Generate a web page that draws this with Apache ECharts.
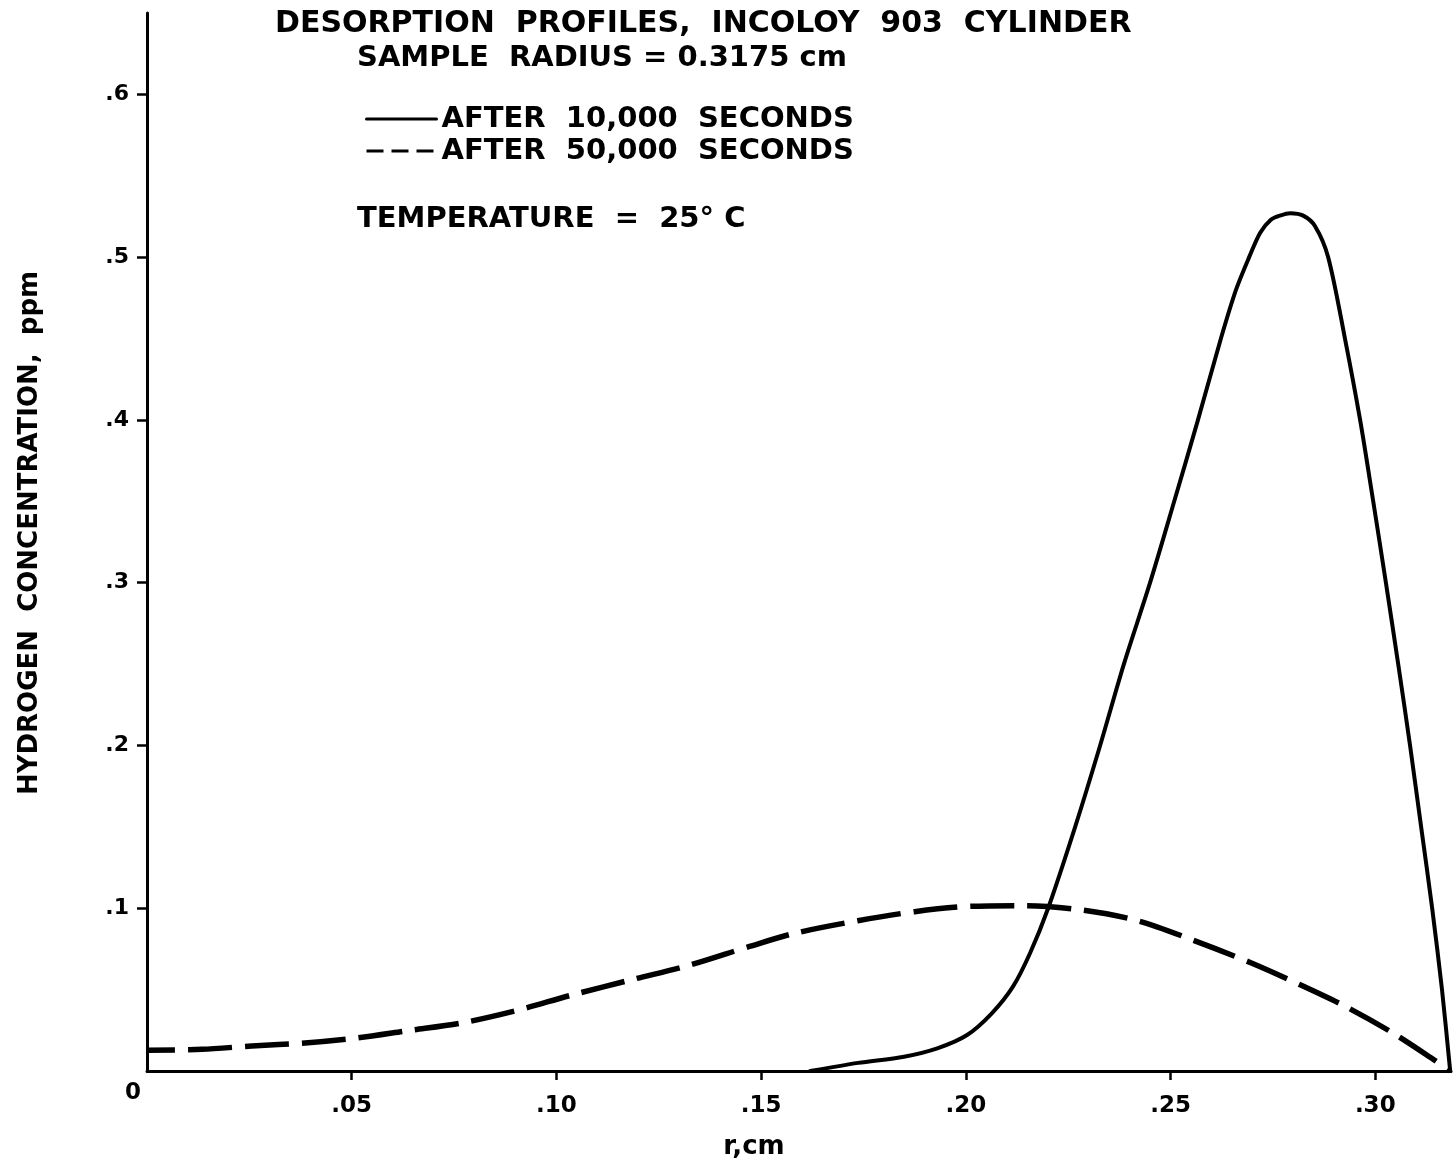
<!DOCTYPE html>
<html>
<head>
<meta charset="utf-8">
<script src="https://cdn.jsdelivr.net/npm/echarts@6/dist/echarts.min.js"></script>
<style>
html, body { margin: 0; padding: 0; background: #fff; }
#main { width: 1455px; height: 1165px; }
</style>
</head>
<body>
<div id="main"></div>
<script>
// radius (cm) and concentration (ppm)
var solidR = [0.162, 0.1737, 0.1849, 0.1932, 0.2003, 0.2064, 0.2115, 0.2157, 0.2201, 0.2267, 0.2328, 0.2386, 0.2450, 0.2509, 0.2567, 0.2623, 0.2660, 0.2692, 0.2719, 0.2745, 0.2767, 0.2792, 0.2824, 0.2853, 0.2885, 0.2926, 0.2963, 0.2995, 0.3026, 0.3056, 0.3085, 0.3112, 0.3139, 0.3163, 0.3183];
var solidC = [0, 0.005, 0.0088, 0.0141, 0.0221, 0.0356, 0.0518, 0.0725, 0.10, 0.15, 0.20, 0.25, 0.30, 0.35, 0.40, 0.45, 0.48, 0.50, 0.515, 0.523, 0.5255, 0.527, 0.5255, 0.519, 0.50, 0.45, 0.40, 0.35, 0.30, 0.25, 0.20, 0.15, 0.10, 0.05, 0];

var dashR = [0, 0.0134, 0.0256, 0.0386, 0.0513, 0.0637, 0.0772, 0.0899, 0.1038, 0.1187, 0.1326, 0.1470, 0.1582, 0.1736, 0.1875, 0.2012, 0.2146, 0.2283, 0.2420, 0.2554, 0.2696, 0.2818, 0.2930, 0.3042, 0.3144, 0.3183];
var dashC = [0.0128, 0.0133, 0.0154, 0.0172, 0.0203, 0.0248, 0.0297, 0.0369, 0.0467, 0.0563, 0.0651, 0.0764, 0.0846, 0.0923, 0.0979, 0.1012, 0.1016, 0.0989, 0.0923, 0.0805, 0.0665, 0.0528, 0.0393, 0.0235, 0.0068, 0];

var seriesNames = ['AFTER  10,000  SECONDS', 'AFTER  50,000  SECONDS'];

var xTickValues = [0.05, 0.10, 0.15, 0.20, 0.25, 0.30];
var xTickLabels = ['.05', '.10', '.15', '.20', '.25', '.30'];
var yTickValues = [0, 0.1, 0.2, 0.3, 0.4, 0.5, 0.6];
var yTickLabels = ['0', '.1', '.2', '.3', '.4', '.5', '.6'];

function pairs(xs, ys) {
	var out = [];
	for (var i = 0; i < xs.length; i++) out.push([xs[i], ys[i]]);
	return out;
}

function pickLabel(values, labels, v) {
	for (var i = 0; i < values.length; i++) {
		if (Math.abs(values[i] - v) < 1e-6) return labels[i];
	}
	return '';
}

var FONT = 'DejaVu Sans';

var myChart = echarts.init(document.getElementById('main'), null, { renderer: 'canvas' });
var option = {
	animation: false,
	backgroundColor: '#fff',
	title: [
		{
			text: 'DESORPTION  PROFILES,  INCOLOY  903  CYLINDER',
			left: 275, top: 9, padding: 0,
			textStyle: { fontFamily: FONT, fontWeight: 'bold', fontSize: 30, color: '#000' }
		},
		{
			text: 'SAMPLE  RADIUS = 0.3175 cm',
			left: 357, top: 44, padding: 0,
			textStyle: { fontFamily: FONT, fontWeight: 'bold', fontSize: 29, color: '#000' }
		},
		{
			text: 'TEMPERATURE  =  25° C',
			left: 357, top: 205, padding: 0,
			textStyle: { fontFamily: FONT, fontWeight: 'bold', fontSize: 29, color: '#000' }
		}
	],
	legend: {
		orient: 'vertical',
		left: 365,
		top: 103,
		padding: 0,
		itemWidth: 70,
		itemHeight: 14,
		itemGap: 0,
		selectedMode: false,
		itemStyle: { opacity: 0 },
		textStyle: { fontFamily: FONT, fontWeight: 'bold', fontSize: 29, color: '#000', lineHeight: 32 },
		data: [
			{ name: seriesNames[0], lineStyle: { width: 3, type: 'solid', color: '#000' } },
			{ name: seriesNames[1], lineStyle: { width: 3, type: [17, 8], dashOffset: 0, cap: 'butt', color: '#000' } }
		]
	},
	grid: {
		left: 147,
		right: 4,
		top: 13,
		bottom: 94,
		containLabel: false,
		outerBoundsMode: 'none'
	},
	xAxis: {
		type: 'value',
		min: 0,
		max: 0.3185,
		name: 'r,cm',
		nameLocation: 'middle',
		nameGap: 63,
		nameTextStyle: { fontFamily: FONT, fontWeight: 'bold', fontSize: 26, color: '#000', padding: [0, 90, 0, 0] },
		axisLine: { lineStyle: { color: '#000', width: 3 } },
		axisTick: { show: true, length: 9, lineStyle: { color: '#000', width: 2.5 }, customValues: xTickValues },
		axisLabel: {
			customValues: xTickValues,
			margin: 24,
			fontFamily: FONT, fontWeight: 'bold', fontSize: 23, color: '#000',
			formatter: function (v) { return pickLabel(xTickValues, xTickLabels, v); }
		},
		splitLine: { show: false }
	},
	yAxis: {
		type: 'value',
		min: 0,
		max: 0.65,
		name: 'HYDROGEN  CONCENTRATION,  ppm',
		nameLocation: 'middle',
		nameGap: 104,
		nameTextStyle: { fontFamily: FONT, fontWeight: 'bold', fontSize: 26, color: '#000', padding: [0, 0, 0, 18] },
		axisLine: { show: true, lineStyle: { color: '#000', width: 3 } },
		axisTick: { show: true, length: 10, lineStyle: { color: '#000', width: 2.5 }, customValues: yTickValues.slice(1) },
		axisLabel: {
			customValues: yTickValues,
			margin: 6,
			fontFamily: FONT, fontWeight: 'bold', fontSize: 22, color: '#000',
			formatter: function (v) {
				var t = pickLabel(yTickValues, yTickLabels, v);
				return v === 0 ? '{z|' + t + '}' : '{n|' + t + '}';
			},
			rich: {
				n: { fontFamily: FONT, fontWeight: 'bold', fontSize: 22, color: '#000', padding: [0, 12, 0, 0] },
				z: { fontFamily: FONT, fontWeight: 'bold', fontSize: 23, color: '#000', padding: [44, 0, 0, 0] }
			}
		},
		splitLine: { show: false }
	},
	series: [
		{
			name: seriesNames[0],
			type: 'line',
			symbol: 'none',
			smooth: 0.3,
			data: pairs(solidR, solidC),
			itemStyle: { color: '#000' },
			lineStyle: { color: '#000', width: 4, cap: 'round', join: 'round' }
		},
		{
			name: seriesNames[1],
			type: 'line',
			symbol: 'none',
			smooth: 0.3,
			data: pairs(dashR, dashC),
			itemStyle: { color: '#000' },
			lineStyle: { color: '#000', width: 5.5, type: [44, 13], dashOffset: 16, cap: 'butt', join: 'round' }
		}
	]
};
myChart.setOption(option);
</script>
</body>
</html>
